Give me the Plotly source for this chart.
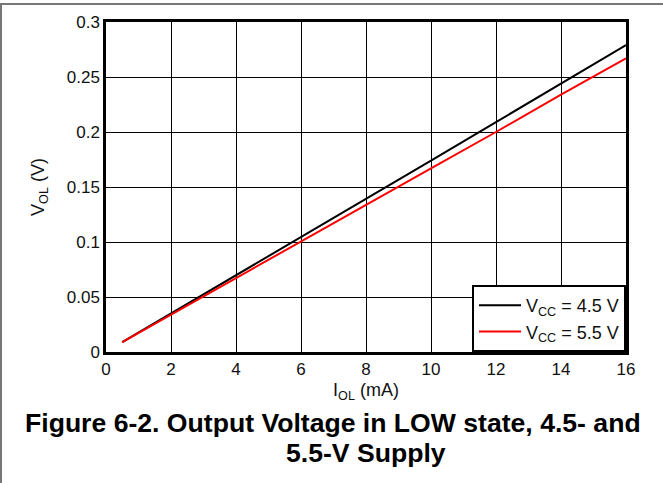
import plotly.graph_objects as go

# Data
i_ol = [0.5, 2, 4, 6, 8, 10, 12, 14, 16]
v_ol_45 = [0.009, 0.035, 0.070, 0.104, 0.139, 0.174, 0.209, 0.244, 0.279]
v_ol_55 = [0.009, 0.034, 0.067, 0.101, 0.134, 0.167, 0.200, 0.234, 0.267]
series_names = ["V<sub>CC</sub> = 4.5 V", "V<sub>CC</sub> = 5.5 V"]
x_ticks = [0, 2, 4, 6, 8, 10, 12, 14, 16]
y_ticks = [0, 0.05, 0.1, 0.15, 0.2, 0.25, 0.3]
y_tick_text = ["0", "0.05", "0.1", "0.15", "0.2", "0.25", "0.3"]
caption_1 = "Figure 6-2. Output Voltage in LOW state, 4.5- and"
caption_2 = "5.5-V Supply"

W, H = 663, 483
L, R, T, B = 106, 37, 22, 131
pw, ph = W - L - R, H - T - B

def px(xp):
    return (xp - L) / pw

def py(yp):
    return (H - B - yp) / ph

fig = go.Figure()
fig.add_trace(go.Scatter(x=i_ol, y=v_ol_45, mode="lines", name=series_names[0],
                         line=dict(color="black", width=2)))
fig.add_trace(go.Scatter(x=i_ol, y=v_ol_55, mode="lines", name=series_names[1],
                         line=dict(color="#ff0000", width=2)))

font = "Liberation Sans, Arial, sans-serif"
fig.update_layout(
    width=W, height=H,
    margin=dict(l=L, r=R, t=T, b=B),
    paper_bgcolor="white", plot_bgcolor="white",
    font=dict(family=font, size=17, color="#111111"),
    showlegend=True,
    legend=dict(x=1, y=0, xanchor="right", yanchor="bottom",
                bordercolor="black", borderwidth=2, bgcolor="white",
                font=dict(size=18, color="#111111"),
                tracegroupgap=0, itemwidth=42),
    xaxis=dict(range=[0, 16], tickvals=x_ticks, showgrid=True, gridcolor="black",
               gridwidth=1, showline=True, linecolor="black", linewidth=2.5,
               mirror=True, ticks="", zeroline=False,
               tickfont=dict(size=17),
               title=dict(text="I<sub>OL</sub> (mA)", standoff=6,
                          font=dict(size=18))),
    yaxis=dict(range=[0, 0.3], tickvals=y_ticks, ticktext=y_tick_text,
               showgrid=True, gridcolor="black", gridwidth=1, showline=True,
               linecolor="black", linewidth=2.5, mirror=True, ticks="",
               zeroline=False, tickfont=dict(size=17),
               title=dict(text="V<sub>OL</sub> (V)", standoff=18,
                          font=dict(size=18))),
    shapes=[
        dict(type="line", xref="paper", yref="paper", x0=px(0), x1=px(663),
             y0=py(4), y1=py(4), line=dict(color="#777777", width=2)),
        dict(type="line", xref="paper", yref="paper", x0=px(1), x1=px(1),
             y0=py(4), y1=py(483), line=dict(color="#777777", width=2)),
    ],
    annotations=[
        dict(text="<b>%s</b>" % caption_1, xref="paper", yref="paper",
             x=px(333), y=py(423), xanchor="center", yanchor="middle",
             showarrow=False, font=dict(family=font, size=26.6, color="black")),
        dict(text="<b>%s</b>" % caption_2, xref="paper", yref="paper",
             x=px(366), y=py(453), xanchor="center", yanchor="middle",
             showarrow=False, font=dict(family=font, size=26.6, color="black")),
    ],
)

fig.write_html("out.html", config={"displayModeBar": False},
               post_script="document.body.style.margin='0';document.body.style.overflow='hidden';")
